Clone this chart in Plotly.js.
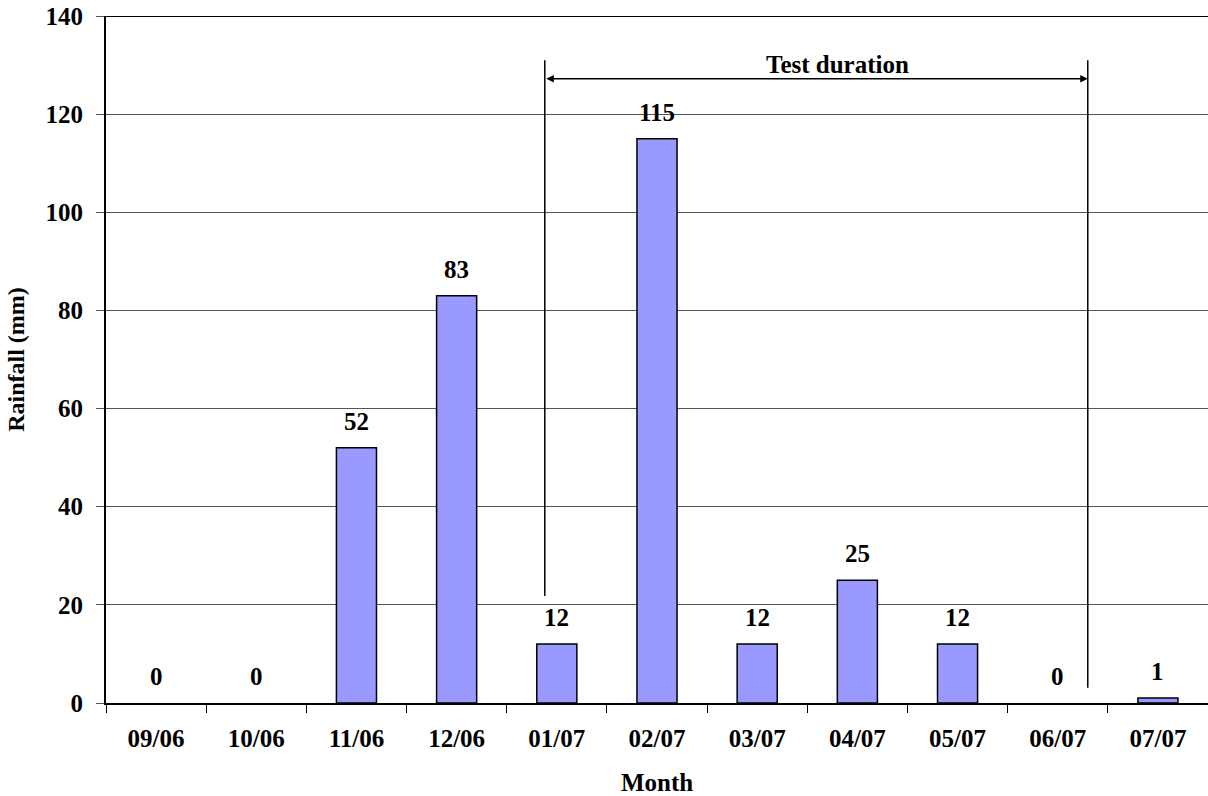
<!DOCTYPE html>
<html>
<head>
<meta charset="utf-8">
<script src="https://cdn.plot.ly/plotly-3.0.1.min.js"></script>
<style>
  body { margin: 0; background: #fff; }
  #chart { width: 1208px; height: 796px; }
</style>
</head>
<body>
<div id="chart"></div>
<script>
const months = ["09/06", "10/06", "11/06", "12/06", "01/07", "02/07", "03/07", "04/07", "05/07", "06/07", "07/07"];
const rainfall = [0, 0, 52, 83, 12, 115, 12, 25, 12, 0, 1];

const yTicks = [0, 20, 40, 60, 80, 100, 120, 140];

// test period markers (category index positions, rainfall units)
const testStart = 3.88;
const testEnd = 9.30;
const testLabel = "Test duration";
const testLabelX = 6.8;

const serif = "Times New Roman, Liberation Serif, serif";

function makeBarLabels() {
	let labels = [];
	months.forEach((m, i) => {
		labels.push({
			x: m,
			y: rainfall[i],
			xref: "x",
			yref: "y",
			text: "<b>" + rainfall[i] + "</b>",
			showarrow: false,
			yanchor: "bottom",
			yshift: 11,
			font: { family: serif, size: 25, color: "#000" }
		});
	});
	return labels;
}

let data = [{
	x: months,
	y: rainfall,
	type: "bar",
	marker: {
		color: "#9999FF",
		// zero height bars have no visible outline in the original
		line: { color: "#000", width: rainfall.map(v => v > 0 ? 1.5 : 0) }
	},
	hoverinfo: "x+y"
}];

let annotations = makeBarLabels();

// double headed arrow over the test period
annotations.push({
	x: testEnd,
	y: 127.2,
	ax: testStart,
	ay: 127.2,
	xref: "x",
	yref: "y",
	axref: "x",
	ayref: "y",
	text: "",
	showarrow: true,
	arrowhead: 2,
	arrowside: "end+start",
	arrowsize: 1,
	arrowwidth: 1.5,
	arrowcolor: "#000"
});

annotations.push({
	x: testLabelX,
	y: 127.0,
	xref: "x",
	yref: "y",
	text: "<b>" + testLabel + "</b>",
	showarrow: false,
	yanchor: "bottom",
	font: { family: serif, size: 25, color: "#000" }
});

let shapes = [
	{ type: "line", xref: "x", yref: "y", x0: testStart, x1: testStart, y0: 21.8, y1: 131, line: { color: "#000", width: 1.5 } },
	{ type: "line", xref: "x", yref: "y", x0: testEnd, x1: testEnd, y0: 3.1, y1: 131, line: { color: "#000", width: 1.5 } },
	{ type: "line", xref: "paper", yref: "y", x0: 0, x1: 1, y0: 140, y1: 140, line: { color: "#000", width: 2 } }
];

let layout = {
	width: 1208,
	height: 796,
	margin: { l: 106, r: 0, t: 16, b: 93 },
	paper_bgcolor: "#fff",
	plot_bgcolor: "#fff",
	showlegend: false,
	bargap: 0.6,
	font: { family: serif, color: "#000" },
	xaxis: {
		type: "category",
		showline: true,
		linecolor: "#000",
		linewidth: 2,
		showgrid: false,
		ticks: "outside",
		tickson: "boundaries",
		ticklen: 8,
		tickcolor: "#000",
		tickwidth: 1,
		ticklabelstandoff: 12,
		tickfont: { family: serif, size: 25, weight: "bold" },
		title: { text: "<b>Month</b>", font: { family: serif, size: 25 }, standoff: 22 }
	},
	yaxis: {
		range: [0, 140],
		tickvals: yTicks,
		showline: true,
		linecolor: "#000",
		linewidth: 2,
		showgrid: true,
		gridcolor: "#555",
		gridwidth: 1,
		zeroline: false,
		ticks: "outside",
		ticklen: 8,
		tickcolor: "#555",
		ticklabelstandoff: 8,
		tickfont: { family: serif, size: 25, weight: "bold" },
		title: { text: "<b>Rainfall (mm)</b>", font: { family: serif, size: 24 }, standoff: 14 }
	},
	annotations: annotations,
	shapes: shapes
};

Plotly.newPlot("chart", data, layout, { displayModeBar: false, staticPlot: true });
</script>
</body>
</html>
